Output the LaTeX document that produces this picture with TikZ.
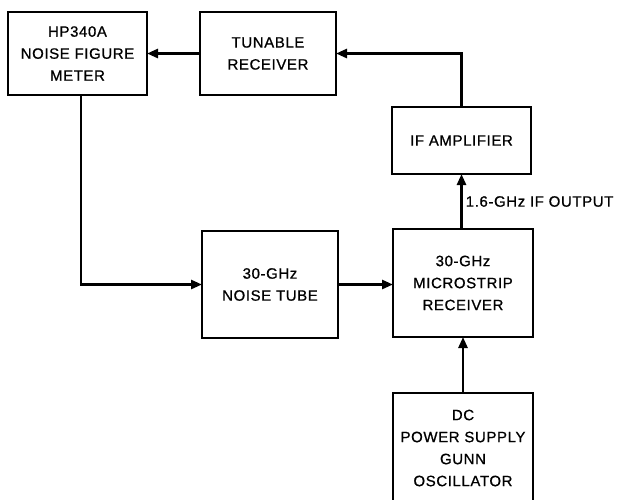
\documentclass[tikz,border=0pt]{standalone}
\usepackage{fontspec}
\setmainfont{Liberation Sans}[LetterSpace=4,FakeBold=0.8]
\usetikzlibrary{arrows.meta}
\begin{document}
\begin{tikzpicture}[x=1pt,y=-1pt,
  box/.style={draw, line width=1.6pt, inner sep=0pt, outer sep=0pt, align=center,
    font=\fontsize{15}{22}\selectfont, anchor=north west},
  conn/.style={line width=2.6pt, -{Triangle[length=11pt,width=9pt]}},
  lbl/.style={font=\fontsize{15}{22}\selectfont, inner sep=2pt}]
\useasboundingbox (0,0) rectangle (617,499);
\node[box, minimum width=139pt, minimum height=83pt] (hp) at (8,12) {HP340A\\NOISE FIGURE\\METER};
\node[box, minimum width=136pt, minimum height=83pt] (tun) at (200,12) {TUNABLE\\RECEIVER};
\node[box, minimum width=139pt, minimum height=67pt] (ifa) at (392,107) {IF AMPLIFIER};
\node[box, minimum width=136pt, minimum height=107pt] (noise) at (202,231) {30-GHz\\NOISE TUBE};
\node[box, minimum width=140pt, minimum height=108pt] (mic) at (393,229) {30-GHz\\MICROSTRIP\\RECEIVER};
\node[box, draw=none, minimum width=140pt, minimum height=110pt] (dc) at (393,393) {DC\\POWER SUPPLY\\GUNN\\OSCILLATOR};
\draw[line width=1.6pt] (dc.south west) -- (dc.north west) -- (dc.north east) -- (dc.south east);
\draw[conn] (tun.west) -- (hp.east);
\draw[conn] (ifa.north) |- (tun.east);
\draw[conn] (ifa.south |- mic.north) -- node[lbl, right, inner sep=3pt] (out) {1.6-GHz IF OUTPUT} (ifa.south);
\draw[conn] ([xshift=3.5pt]hp.south) |- (noise.west);
\draw[conn] (noise.east) -- (noise.east -| mic.west);
\draw[conn] (dc.north) -- (mic.south);
\end{tikzpicture}
\end{document}
